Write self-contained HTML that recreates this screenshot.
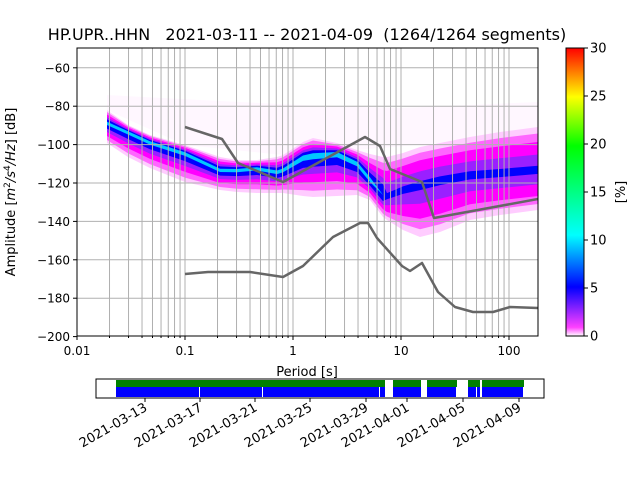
<!DOCTYPE html>
<html><head><meta charset="utf-8"><style>
body{margin:0;background:#fff;}
svg{display:block;font-family:"DejaVu Sans","Liberation Sans",sans-serif;}
</style></head><body>
<svg id="s" width="640" height="480" xmlns="http://www.w3.org/2000/svg">
<defs>
<linearGradient id="cb" x1="0" y1="1" x2="0" y2="0">
<stop offset="0" stop-color="#ffffff"/>
<stop offset="0.03" stop-color="#ff40ff"/>
<stop offset="0.17" stop-color="#0000ff"/>
<stop offset="0.35" stop-color="#00ffff"/>
<stop offset="0.66" stop-color="#00ff00"/>
<stop offset="0.83" stop-color="#ffff00"/>
<stop offset="1" stop-color="#ff0000"/>
</linearGradient>
<clipPath id="ax"><rect x="77" y="48" width="461" height="288"/></clipPath>
</defs>
<g id="dens" clip-path="url(#ax)"></g>
<g id="grid" clip-path="url(#ax)"></g>
<g id="lines" clip-path="url(#ax)" fill="none" stroke="#666" stroke-width="2.5" stroke-linejoin="round">
<polyline points="185,127 222,139 238,163 283,182 365,137 380,146 390,169 422,182 434,218 538,199"/>
<polyline points="185,274 208,272 250,272 283,277 303,266 333,237 360,223 368,223 377,238 402,266 410,271 422,263 438,292 455,307 473,312 493,312 510,307 538,308"/>
</g>
<rect x="77" y="48" width="461" height="288" fill="none" stroke="#000" stroke-width="1"/>
<g id="ticks" font-size="12" fill="#000"></g>
<text x="307" y="40" font-size="16" text-anchor="middle" style="white-space:pre">HP.UPR..HHN   2021-03-11 -- 2021-04-09  (1264/1264 segments)</text>
<text x="307" y="376" font-size="13" text-anchor="middle">Period [s]</text>
<text transform="translate(15,192) rotate(-90)" font-size="13" text-anchor="middle">Amplitude [<tspan font-style="italic">m</tspan><tspan font-size="9" dy="-5">2</tspan><tspan dy="5" font-style="italic">/s</tspan><tspan font-size="9" dy="-5">4</tspan><tspan dy="5" font-style="italic">/Hz</tspan>] [dB]</text>
<rect x="566" y="48" width="18" height="288" fill="url(#cb)" stroke="#000" stroke-width="1"/>
<g id="cbt" font-size="13"></g>
<text transform="translate(625,192) rotate(-90)" font-size="13" text-anchor="middle">[%]</text>
<rect x="96" y="379" width="448" height="19" fill="#fff" stroke="#000"/>
<g id="tl"></g>
</svg>
<script>
(function(){
var NS="http://www.w3.org/2000/svg";
function el(p,t,a,txt){var e=document.createElementNS(NS,t);for(var k in a)e.setAttribute(k,a[k]);if(txt!==undefined)e.textContent=txt;document.getElementById(p).appendChild(e);return e;}
function X(p){return 293+108*Math.log10(p);}
function Y(d){return 48.6+(-50-d)*1.92;}
var xs=[107,128,150,185,220,237,257,277,283,303,313,337,357,370,383,387,403,420,440,470,500,538];
var tp=[110,125,135,145,157,160,160,157,155,142,138,143,150,154,157,157,153,147,143,137,132,127];
var bt=[143,157,168,182,190,192,193,193,193,196,197,196,195,200,217,220,230,237,232,220,215,210];
var cc=[123,132,142,153,170,170,168,172,170,157,155,153,163,180,195,197,190,185,180,175,173,170];
el("dens","polygon",{points:"107,95 200,100 300,105 400,108 538,102 538,127 440,143 357,150 283,155 185,145 107,110",fill:"#fff7ff"});
var layers=[[1,"#ffccff"],[0.85,"#ff66ff"],[0.65,"#ff00ff"],[0.45,"#9a20ff"],[0.28,"#0000ff"],[0.1,"#00c8ff"]];
for(var L=0;L<layers.length;L++){var f=layers[L][0],pts=[],pb=[];
 for(var i=0;i<xs.length;i++){
  var ff=f; if(xs[i]>383 && L==4) ff=f*0.35; if(xs[i]>383 && L==3) ff=f*0.8; if(xs[i]>375&&L==5) ff=0;
  pts.push(xs[i]+","+(cc[i]-ff*(cc[i]-tp[i])));pb.unshift(xs[i]+","+(cc[i]+ff*(bt[i]-cc[i])));}
 el("dens","polygon",{points:pts.concat(pb).join(" "),fill:layers[L][1]});}
for(var e=-2;e<=2;e++)for(var m=1;m<10;m++){var x=X(m*Math.pow(10,e));if(x>77&&x<538)el("grid","line",{x1:x,x2:x,y1:48,y2:336,stroke:"#b0b0b0","stroke-width":1});}
for(var d=-60;d>=-180;d-=20)el("grid","line",{x1:77,x2:538,y1:Y(d),y2:Y(d),stroke:"#b0b0b0","stroke-width":1});
for(var d=-60;d>=-200;d-=20){var y=Y(d);el("ticks","line",{x1:73,x2:77,y1:y,y2:y,stroke:"#000"});el("ticks","text",{x:70,y:y+4.5,"text-anchor":"end"},"\u2212"+(-d));}
var lab=["0.01","0.1","1","10","100"];
for(var e=-2;e<=2;e++){var x=X(Math.pow(10,e));el("ticks","line",{x1:x,x2:x,y1:336,y2:340,stroke:"#000"});el("ticks","text",{x:x,y:355,"text-anchor":"middle"},lab[e+2]);
 for(var m=2;m<10;m++){var xm=X(m*Math.pow(10,e));if(xm<538)el("ticks","line",{x1:xm,x2:xm,y1:336,y2:338,stroke:"#000"});}}
for(var v=0;v<=30;v+=5){var y=336-v*9.6;el("cbt","line",{x1:584,x2:588,y1:y,y2:y,stroke:"#000"});el("cbt","text",{x:590,y:y+4.5},String(v));}
var g=[[116,385],[393,421],[427,457],[468,480],[482,524]];
g.forEach(function(a){el("tl","rect",{x:a[0],y:380,width:a[1]-a[0],height:7,fill:"#008000"});});
var b=[[116,199],[200,262],[263,379],[380,385],[393,421],[427,456],[468,476],[477,480],[482,523]];
b.forEach(function(a){el("tl","rect",{x:a[0],y:387,width:a[1]-a[0],height:10,fill:"#0000ff"});});
var tk=[[145,"2021-03-13"],[200,"2021-03-17"],[255,"2021-03-21"],[310,"2021-03-25"],[366,"2021-03-29"],[407,"2021-04-01"],[463,"2021-04-05"],[519,"2021-04-09"]];
tk.forEach(function(t){el("tl","line",{x1:t[0],x2:t[0],y1:398,y2:402,stroke:"#000"});
 el("tl","text",{transform:"translate("+(t[0]+3)+",410) rotate(-30)","text-anchor":"end","font-size":"13"},t[1]);});
})();
</script>
</body></html>
